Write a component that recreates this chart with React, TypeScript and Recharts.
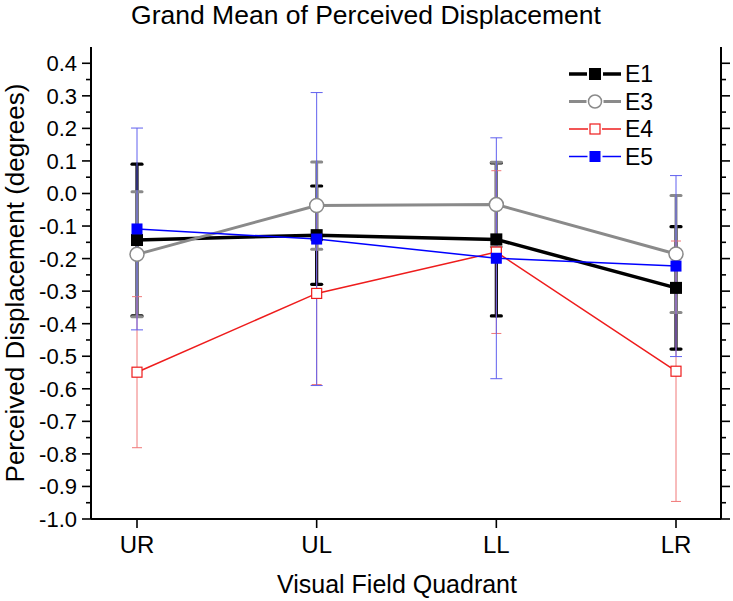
import React from 'react';
import { LineChart, Line, XAxis, YAxis, ErrorBar, Legend } from 'recharts';

const quadrants = ['UR', 'UL', 'LL', 'LR'];
const e1Mean = [-0.143, -0.128, -0.141, -0.29];
const e1Err = [0.233, 0.151, 0.235, 0.188];
const e3Mean = [-0.187, -0.037, -0.034, -0.186];
const e3Err = [0.192, 0.134, 0.13, 0.18];
const e4Mean = [-0.549, -0.307, -0.18, -0.546];
const e4Err = [0.232, 0.28, 0.25, 0.4];
const e5Mean = [-0.109, -0.14, -0.199, -0.223];
const e5Err = [0.31, 0.45, 0.37, 0.278];

const yMajorTicks = [0.4, 0.3, 0.2, 0.1, 0.0, -0.1, -0.2, -0.3, -0.4, -0.5, -0.6, -0.7, -0.8, -0.9, -1.0];
const yMinorTicks = [0.35, 0.25, 0.15, 0.05, -0.05, -0.15, -0.25, -0.35, -0.45, -0.55, -0.65, -0.75, -0.85, -0.95];
const yDomain: [number, number] = [-1.0, 0.45];

const FONT = '"Liberation Sans", Arial, Helvetica, sans-serif';

const data = quadrants.map((q, i) => ({
  q,
  e1: e1Mean[i],
  e1err: e1Err[i],
  e3: e3Mean[i],
  e3err: e3Err[i],
  e4: e4Mean[i],
  e4err: e4Err[i],
  e5: e5Mean[i],
  e5err: e5Err[i],
}));

const allTicks = [...yMajorTicks, ...yMinorTicks].sort((a, b) => b - a);
const isMajor = (v: number) => yMajorTicks.some((m) => Math.abs(m - v) < 1e-6);

const LeftTick = (props: any) => {
  const { x, y, payload } = props;
  const v = payload.value as number;
  const major = isMajor(v);
  return (
    <g>
      <line x1={x} x2={x - (major ? 9 : 5)} y1={y} y2={y} stroke="#000" strokeWidth={1.6} />
      {major && (
        <text x={x - 14} y={y} dy="0.36em" textAnchor="end" fontSize={22} fontFamily={FONT} fill="#000">
          {v.toFixed(1)}
        </text>
      )}
    </g>
  );
};

const RightTick = (props: any) => {
  const { x, y, payload } = props;
  const major = isMajor(payload.value as number);
  return <line x1={x} x2={x + (major ? 9 : 5)} y1={y} y2={y} stroke="#000" strokeWidth={1.6} />;
};

const squareDot = (fill: string, stroke: string, size: number, sw: number) => (props: any) => {
  const { cx, cy, index } = props;
  if (cx == null || cy == null) return <g key={`n${index}`} />;
  return (
    <rect
      key={`s${index}`}
      x={cx - size / 2}
      y={cy - size / 2}
      width={size}
      height={size}
      fill={fill}
      stroke={stroke}
      strokeWidth={sw}
    />
  );
};

const circleDot = (props: any) => {
  const { cx, cy, index } = props;
  if (cx == null || cy == null) return <g key={`n${index}`} />;
  return <circle key={`c${index}`} cx={cx} cy={cy} r={7} fill="#fff" stroke="#8a8a8a" strokeWidth={1.5} />;
};

const legendItems = [
  { name: 'E1', color: '#000', lw: 3.5, marker: 'sqFill', mfill: '#000', size: 12 },
  { name: 'E3', color: '#8a8a8a', lw: 3, marker: 'circle', mfill: '#fff', size: 13 },
  { name: 'E4', color: '#ee1c1c', lw: 1.5, marker: 'sqOpen', mfill: '#fff', size: 10 },
  { name: 'E5', color: '#0000ff', lw: 1.5, marker: 'sqFill', mfill: '#0000ff', size: 11 },
];

const renderLegend = () => (
  <svg width={120} height={120} style={{ display: 'block' }}>
    {legendItems.map((it, i) => {
      const cy = 14 + i * 27.5;
      const cx = 35;
      const h = it.size / 2;
      return (
        <g key={it.name}>
          <line x1={9} x2={cx - h - 2} y1={cy} y2={cy} stroke={it.color} strokeWidth={it.lw} />
          <line x1={cx + h + 2} x2={61} y1={cy} y2={cy} stroke={it.color} strokeWidth={it.lw} />
          {it.marker === 'circle' ? (
            <circle cx={cx} cy={cy} r={h} fill="#fff" stroke={it.color} strokeWidth={1.5} />
          ) : (
            <rect
              x={cx - h}
              y={cy - h}
              width={it.size}
              height={it.size}
              fill={it.mfill}
              stroke={it.color}
              strokeWidth={it.marker === 'sqOpen' ? 1.2 : 0}
            />
          )}
          <text x={65} y={cy} dy="0.36em" fontSize={23} fontFamily={FONT} fill="#000">
            {it.name}
          </text>
        </g>
      );
    })}
  </svg>
);

export default function App() {
  return (
    <div style={{ position: 'absolute', left: 0, top: 0, width: 733, height: 601, background: '#fff', fontFamily: FONT }}>
      <div
        style={{
          position: 'absolute',
          left: 366,
          top: 2,
          transform: 'translateX(-50%)',
          whiteSpace: 'nowrap',
          fontSize: 26.5,
          lineHeight: 1,
          color: '#000',
        }}
      >
        Grand Mean of Perceived Displacement
      </div>
      <div
        style={{
          position: 'absolute',
          left: 397,
          top: 572,
          transform: 'translateX(-50%)',
          whiteSpace: 'nowrap',
          fontSize: 25,
          lineHeight: 1,
          color: '#000',
        }}
      >
        Visual Field Quadrant
      </div>
      <div
        style={{
          position: 'absolute',
          left: 15,
          top: 283,
          transform: 'translate(-50%, -50%) rotate(-90deg)',
          whiteSpace: 'nowrap',
          fontSize: 26,
          lineHeight: 1,
          color: '#000',
        }}
      >
        Perceived Displacement (degrees)
      </div>
      <div style={{ position: 'absolute', left: 0, top: 0 }}>
        <LineChart width={733} height={601} data={data} margin={{ top: 47, right: 2, bottom: 42, left: 40 }}>
          <XAxis
            dataKey="q"
            xAxisId="b"
            padding={{ left: 46, right: 45 }}
            interval={0}
            tickSize={9}
            tickMargin={8}
            height={40}
            axisLine={{ stroke: '#000', strokeWidth: 2 }}
            tickLine={{ stroke: '#000', strokeWidth: 1.6 }}
            tick={{ fill: '#000', fontSize: 24, fontFamily: FONT }}
          />
          <XAxis
            dataKey="q"
            xAxisId="t"
            orientation="top"
            height={0}
            tick={false}
            tickLine={false}
            axisLine={{ stroke: '#000', strokeWidth: 2 }}
          />
          <YAxis
            yAxisId="l"
            type="number"
            domain={yDomain}
            allowDataOverflow
            ticks={allTicks}
            interval={0}
            width={51}
            tickSize={0}
            tickMargin={0}
            tickLine={false}
            axisLine={{ stroke: '#000', strokeWidth: 2 }}
            tick={<LeftTick />}
          />
          <YAxis
            yAxisId="r"
            orientation="right"
            type="number"
            domain={yDomain}
            allowDataOverflow
            ticks={allTicks}
            interval={0}
            width={10}
            tickSize={0}
            tickMargin={0}
            tickLine={false}
            axisLine={{ stroke: '#000', strokeWidth: 2 }}
            tick={<RightTick />}
          />
          <Legend
            layout="vertical"
            align="center"
            verticalAlign="middle"
            content={renderLegend}
            wrapperStyle={{ position: 'absolute', left: 560, top: 60, width: 120, height: 120 }}
          />
          <Line
            xAxisId="b"
            yAxisId="l"
            dataKey="e1"
            name="E1"
            stroke="#000"
            strokeWidth={3.5}
            isAnimationActive={false}
            dot={squareDot('#000', '#000', 12, 0)}
            activeDot={false}
          >
            <ErrorBar dataKey="e1err" width={5} stroke="#000" strokeWidth={3.2} strokeLinecap="round" />
          </Line>
          <Line
            xAxisId="b"
            yAxisId="l"
            dataKey="e3"
            name="E3"
            stroke="#8a8a8a"
            strokeWidth={3}
            isAnimationActive={false}
            dot={circleDot}
            activeDot={false}
          >
            <ErrorBar dataKey="e3err" width={5} stroke="#8a8a8a" strokeWidth={3} strokeLinecap="round" />
          </Line>
          <Line
            xAxisId="b"
            yAxisId="l"
            dataKey="e4"
            name="E4"
            stroke="#ee1c1c"
            strokeWidth={1.5}
            isAnimationActive={false}
            dot={squareDot('#fff', '#ee1c1c', 10, 1.2)}
            activeDot={false}
          >
            <ErrorBar dataKey="e4err" width={5} stroke="#f07878" strokeWidth={1} />
          </Line>
          <Line
            xAxisId="b"
            yAxisId="l"
            dataKey="e5"
            name="E5"
            stroke="#0000ff"
            strokeWidth={1.5}
            isAnimationActive={false}
            dot={squareDot('#0000ff', '#0000ff', 11, 0)}
            activeDot={false}
          >
            <ErrorBar dataKey="e5err" width={6} stroke="#6060ee" strokeWidth={1} />
          </Line>
        </LineChart>
      </div>
    </div>
  );
}
